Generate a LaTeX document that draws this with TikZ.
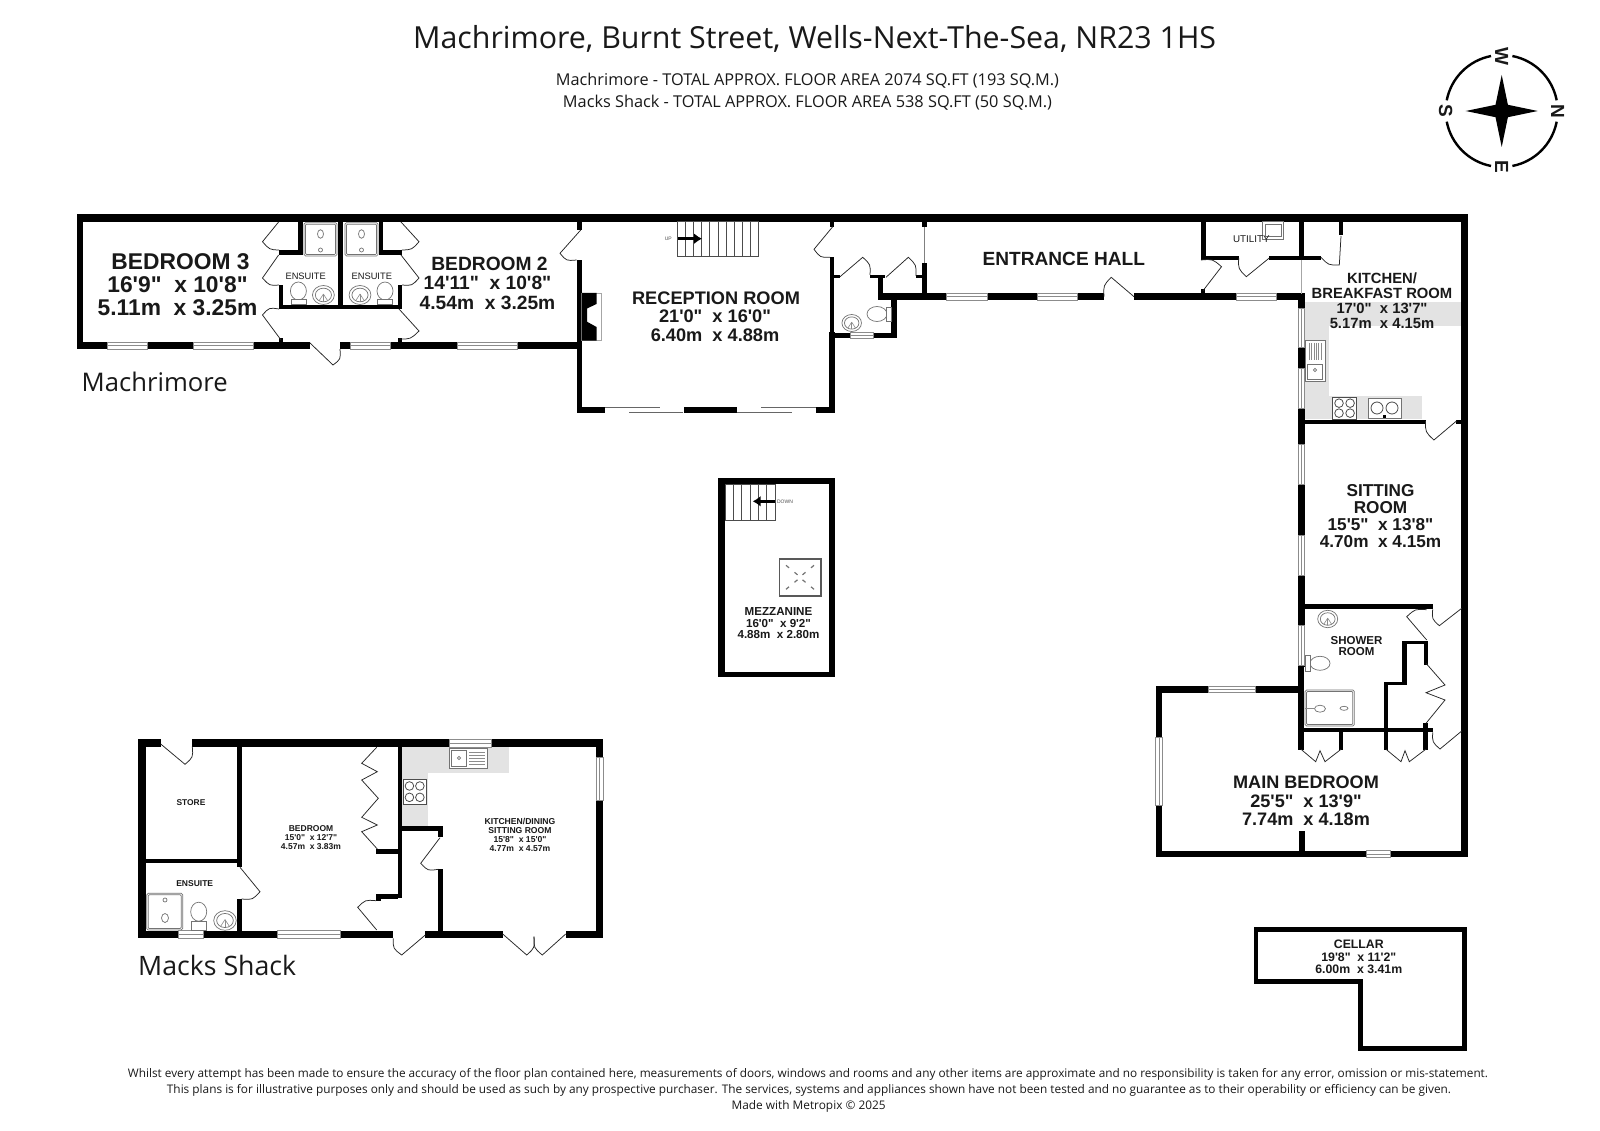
\documentclass[tikz,border=0pt]{standalone}
\usepackage{fontspec}
\usepackage{graphicx}
\usetikzlibrary{arrows.meta}
\setmainfont{Liberation Sans}
\newfontfamily\lab{Liberation Sans}
\newfontfamily\hdr{Open Sans}
\tikzset{
  wallfill/.style={fill=black,draw=none},
  winbox/.style={fill=white,draw=black!45,line width=.6pt},
  winmid/.style={draw=black!45,line width=.6pt},
  doorleaf/.style={draw=black!85,line width=.75pt},
  fixture/.style={draw=black!55,line width=.7pt,fill=white},
  burner/.style={draw=black!70,line width=.8pt},
  counter/.style={fill=black!11,draw=none},
  room/.style={font=\lab\bfseries,align=center,inner sep=0pt,text=black!90},
  head/.style={font=\hdr,inner sep=0pt,text=black!90},
  treads/.style={draw=black!70,line width=.7pt},
  arrowbar/.style={-{Latex[length=8pt,width=11pt]},black,line width=3pt},
}
\newcommand{\W}[4]{\fill[wallfill] (#1,#2) rectangle (#3,#4);}
\newcommand{\winh}[4]{\filldraw[winbox] (#1,#2) rectangle (#3,#4);\draw[winmid] (#1,{(#2+#4)/2}) -- (#3,{(#2+#4)/2});}
\newcommand{\winv}[4]{\filldraw[winbox] (#1,#2) rectangle (#3,#4);\draw[winmid] ({(#1+#3)/2},#2) -- ({(#1+#3)/2},#4);}
\newcommand{\door}[6]{\draw[doorleaf] (#1,#2) -- (#3,#4) .. controls ({#1+.58*(#3-#1+#5-#1)},{#2+.58*(#4-#2+#6-#2)}) .. (#5,#6);}
\newcommand{\tsize}[2]{\fontsize{#1}{#2}\selectfont}
\newcommand{\basin}[3]{\draw[fixture] (#1,#2) ellipse ({#3*1.15} and #3);\draw[fixture] (#1,#2) ellipse ({#3*.85} and {#3*.72});
  \draw[winmid] (#1,{#2-#3*.1}) -- (#1,{#2+#3*.7});\draw[winmid] (#1,{#2-#3*.1}) -- ({#1-#3*.45},{#2+#3*.6});\draw[winmid] (#1,{#2-#3*.1}) -- ({#1+#3*.45},{#2+#3*.6});}
\newcommand{\shower}[4]{\draw[fixture,rounded corners=1.5pt] (#1,#2) rectangle (#3,#4);\draw[fixture,rounded corners=1pt] ({#1+1.5},{#2+1.5}) rectangle ({#3-1.5},{#4-1.5});}
\newcommand{\hob}[4]{\draw[burner,fill=white] (#1,#2) rectangle (#3,#4);
  \foreach \u in {.27,.73}{\foreach \v in {.27,.73}{\draw[burner] ({#1+\u*(#3-#1)},{#2+\v*(#4-#2)}) circle (4.3);}}}
\begin{document}
\begin{tikzpicture}[x=1pt,y=-1pt]
\useasboundingbox (0,0) rectangle (1600,1131);
\fill[white] (0,0) rectangle (1600,1131);

% ---------- headings
\node[head] (title) at (814.6,39) {\resizebox{803pt}{!}{Machrimore, Burnt Street, Wells-Next-The-Sea, NR23 1HS}};
\node[head] (sub1) at (807.5,81) {\resizebox{503pt}{!}{Machrimore - TOTAL APPROX. FLOOR AREA 2074 SQ.FT (193 SQ.M.)}};
\node[head] (sub2) at (807.5,103) {\resizebox{489pt}{!}{Macks Shack - TOTAL APPROX. FLOOR AREA 538 SQ.FT (50 SQ.M.)}};
\node[head,anchor=base west] (mach) at (81.5,391.2) {\resizebox{146pt}{!}{Machrimore}};
\node[head,anchor=base west] (macks) at (138,975) {\resizebox{158pt}{!}{Macks Shack}};
\node[head] (foot1) at (808,1074.5) {\resizebox{1360pt}{!}{Whilst every attempt has been made to ensure the accuracy of the floor plan contained here, measurements of doors, windows and rooms and any other items are approximate and no responsibility is taken for any error, omission or mis-statement.}};
\node[head] (foot2) at (809,1090) {\resizebox{1284pt}{!}{This plans is for illustrative purposes only and should be used as such by any prospective purchaser. The services, systems and appliances shown have not been tested and no guarantee as to their operability or efficiency can be given.}};
\node[head] (foot3) at (808.6,1106) {\resizebox{154pt}{!}{Made with Metropix © 2025}};

% ---------- compass
\draw[line width=2.4pt,black] (1501.7,111) ++(11:56) arc[start angle=11,end angle=79,radius=56];
\draw[line width=2.4pt,black] (1501.7,111) ++(101:56) arc[start angle=101,end angle=169,radius=56];
\draw[line width=2.4pt,black] (1501.7,111) ++(191:56) arc[start angle=191,end angle=259,radius=56];
\draw[line width=2.4pt,black] (1501.7,111) ++(281:56) arc[start angle=281,end angle=349,radius=56];
\fill[black] (1501.7,75) -- (1507.9,104.8) -- (1537.7,111) -- (1507.9,117.2) -- (1501.7,147) -- (1495.5,117.2) -- (1465.7,111) -- (1495.5,104.8) -- cycle;
\node[room,rotate=-90,font=\lab\bfseries\tsize{19}{19}] (cN) at (1557.7,111) {N};
\node[room,rotate=-90,font=\lab\bfseries\tsize{19}{19}] (cS) at (1445.7,111) {S};
\node[room,rotate=-90,font=\lab\bfseries\tsize{19}{19}] (cW) at (1501.7,56) {W};
\node[room,rotate=-90,font=\lab\bfseries\tsize{19}{19}] (cE) at (1501.7,167) {E};

% ---------- Machrimore counters
\fill[counter] (1304.5,301.7) rectangle (1461.4,326);
\fill[counter] (1304.5,301.7) rectangle (1328.6,419);
\fill[counter] (1304.5,395.7) rectangle (1422.4,419.3);

% ---------- Machrimore outer walls
\W{76.8}{214}{1468.3}{221.7}
\W{76.8}{214}{83.2}{349}
\W{76.8}{342.3}{310}{349}
\W{340}{342.3}{581.7}{349}
\W{576.7}{221.7}{581.7}{230}
\W{576.7}{260}{581.7}{413.3}
\W{576.7}{406.7}{605}{413.3}
\W{684}{406.7}{736.7}{413.3}
\W{816}{406.7}{835.3}{413.3}
\W{830}{221.7}{834}{226.7}
\W{830}{257}{834}{332}
\W{829.3}{332}{835.3}{413.3}
\W{835}{332.7}{897.3}{338.3}
\W{891.3}{294}{897.3}{338.3}
\W{878.3}{293.3}{1104}{300}
\W{1134}{293.3}{1304.5}{300}
\W{1461.4}{214}{1468.3}{857.3}
\W{1298}{293.3}{1304.5}{666.7}
\W{1298.3}{666.7}{1304}{750}
\W{1155.7}{686}{1298.3}{692.7}
\W{1155.7}{686}{1162.3}{857.3}
\W{1155.7}{850.7}{1468.3}{857.3}
% ---------- inner walls, west wing
\W{297.5}{221.7}{303}{255}
\W{278.6}{250}{303}{255}
\W{338}{221.7}{343}{309}
\W{378.6}{221.7}{383}{255}
\W{378.6}{250}{402}{255}
\W{278.6}{305}{402}{309}
\W{278.6}{285}{283}{309}
\W{397.5}{285}{402}{309}
\W{279}{338}{283}{343}
\W{398}{338}{402}{343}
% ---------- inner walls, middle
\W{878.3}{276}{882.7}{298}
\W{870}{275}{885}{278.3}
\W{834}{275}{840}{278.3}
\W{916}{275}{922.7}{278.3}
\W{922}{263.3}{926.7}{298}
\W{922}{221.7}{926.7}{227}
\draw[black!50,line width=.7pt] (924,227) -- (924,263.3);
\W{1201}{221.7}{1206}{260}
\W{1201}{256}{1238.7}{260}
\W{1269.3}{256}{1321}{260}
\W{1298.8}{221.7}{1303.8}{258}
\draw[black!35,line width=.7pt] (1301,260) -- (1301,294);
\W{1339}{221.7}{1343}{235}
\W{1200.5}{289}{1205}{296}
% ---------- inner walls, east wing
\W{1304.5}{419.5}{1425.5}{424}
\W{1455.7}{419.5}{1461.4}{424}
\W{1304.5}{604.3}{1432.7}{609.3}
\W{1424}{640.7}{1428.3}{665}
\W{1402.3}{640.7}{1428.3}{644}
\W{1402.3}{640.7}{1406.7}{685}
\W{1384}{681.7}{1406.7}{685}
\W{1384}{681.7}{1388.3}{749.7}
\W{1303}{727.7}{1432.7}{732.3}
\W{1339}{732}{1343.3}{750}
\W{1423.3}{723}{1428.3}{750}
\W{1299.3}{831}{1304.7}{851}

% ---------- Machrimore windows
\winh{107}{342.3}{147}{349}
\winh{193}{342.3}{253}{349}
\winh{350}{342.3}{390}{349}
\winh{457.5}{342.3}{517}{349}
\winh{850}{332.7}{873}{338.3}
\winh{946.7}{293.3}{986.9}{300}
\winh{1037}{293.3}{1076.8}{300}
\winh{1236}{293.3}{1275.8}{300}
\winv{1298}{308}{1304.5}{347.3}
\winv{1298}{368.3}{1304.5}{408.3}
\winv{1298}{444}{1304.5}{484}
\winv{1298}{535.7}{1304.5}{575}
\winv{1298}{625}{1304.5}{665}
\winh{1208.3}{686}{1255}{692.7}
\winv{1155.7}{737.3}{1162.3}{805}
\winh{1366}{850.7}{1390}{857.3}
% reception sliding doors
\draw[black!60,line width=.8pt] (605,407.3) -- (660,407.3);
\draw[black!60,line width=.8pt] (629,412) -- (683.3,412);
\draw[black!60,line width=.8pt] (736.7,412) -- (792.3,412);
\draw[black!60,line width=.8pt] (761,407.3) -- (816,407.3);

% ---------- fireplace
\filldraw[fill=white,draw=black!35,line width=.5pt] (581.7,293) rectangle (601.3,340.7);
\fill[black] (581.7,293) -- (596.5,293) -- (596.5,304) -- (587,308.5) -- (587,321.7) -- (596.5,327) -- (596.5,340.7) -- (581.7,340.7) -- cycle;

% ---------- stairs up
\draw[treads] (677.7,221.7) rectangle (758,256.7);
\foreach \i in {1,...,9}{\draw[treads] ({677.7+8.03*\i},221.7) -- ({677.7+8.03*\i},256.7);}
\draw[arrowbar] (678,238.7) -- (702,238.7);
\node[font=\lab\tsize{5}{5},text=black!70,inner sep=0pt] (up) at (668.3,239) {UP};

% ---------- Machrimore doors
\door{278.6}{222}{262.5}{241.7}{279}{250}
\door{278.6}{255}{262.5}{278}{279}{285}
\door{281}{340}{262.5}{315}{279}{309}
\door{401}{222}{419}{241.7}{402}{250}
\door{401}{255}{419}{278}{402}{285}
\door{399}{309}{419}{331}{399}{339}
\door{310}{343}{333}{365}{340}{349}
\door{580.7}{230}{560}{253.3}{576.7}{260}
\door{832.7}{226.7}{814}{249.3}{830}{257.3}
\door{840}{276.7}{862.7}{257.3}{870}{275}
\door{886}{277.3}{908.3}{257.3}{916}{276}
\door{1134}{296.7}{1111.2}{277.3}{1104}{296.7}
\door{1203}{290.7}{1221.5}{266.7}{1201}{260}
\door{1269.3}{258}{1246.3}{276.7}{1238.7}{258}
\door{1341}{236}{1339.3}{265}{1321}{257.3}
\door{1456.8}{420.7}{1433.9}{440}{1425.5}{421}
\door{1461.7}{608.3}{1439.3}{625.7}{1432.7}{609.3}
\door{1426.7}{640}{1406.7}{616.7}{1426.7}{609.7}
\door{1461.7}{731}{1440}{749}{1432.7}{732.3}
\draw[doorleaf] (1426,723.3) -- (1445,700) -- (1426,692.7) -- (1445,685) -- (1426,663.3);
\draw[doorleaf] (1301,749.3) -- (1315.7,761.7) -- (1320,750.7) -- (1325,761.7) -- (1341,749.3);
\draw[doorleaf] (1386,749.3) -- (1401,761.7) -- (1405,750.7) -- (1409.3,761.7) -- (1425.7,749.3);

% ---------- Machrimore fixtures
\shower{304}{222.7}{337}{256}
\draw[fixture] (320.5,234) ellipse (3 and 4.3);
\draw[fixture] (320.5,250) circle (2);
\shower{345}{222.7}{378}{256}
\draw[fixture] (361.5,234) ellipse (3 and 4.3);
\draw[fixture] (361.5,250) circle (2);
\draw[fixture] (298.4,291) ellipse (8 and 9);
\draw[fixture] (291,299.5) rectangle (306,304.3);
\basin{323.4}{295}{9.5}
\draw[fixture] (385,291) ellipse (8 and 9);
\draw[fixture] (377.5,299.5) rectangle (392.5,304.3);
\basin{360}{295}{9.5}
\draw[fixture] (877,314) ellipse (10 and 7.5);
\draw[fixture] (886,307) rectangle (891,321);
\basin{851.7}{323}{8.5}
\draw[fixture] (1262.8,221.7) rectangle (1283.8,239.3);
\draw[fixture] (1265.5,224) rectangle (1281,236.5);
\draw[fixture] (1305,340) rectangle (1325,381.7);
\foreach \i in {0,1,2,3,4,5}{\draw[black!45,line width=.5pt] ({1309+2.4*\i},343) -- ({1309+2.4*\i},360);}
\draw[fixture] (1307.5,364) rectangle (1322.5,379.5);
\draw[fixture] (1315,370) circle (1.6);
\hob{1332.5}{397.3}{1356.6}{419}
\draw[fixture] (1368.4,398.3) rectangle (1401,418.3);
\draw[burner] (1377,408) circle (6);
\draw[burner] (1392,408) circle (6);
\fill[black] (1383,415) rectangle (1386,418);
\basin{1327.7}{619}{8.7}
\draw[fixture] (1320,663.3) ellipse (10 and 7);
\draw[fixture] (1305,655.5) rectangle (1310,671);
\shower{1305}{690}{1354.3}{726}
\draw[fixture] (1320,708.7) ellipse (5.5 and 3.5);
\draw[fixture] (1344,708.3) ellipse (4 and 2);
\draw[winmid] (1305,708.7) -- (1314.5,708.7);

% ---------- Machrimore labels
\node[room,font=\lab\bfseries\tsize{22.8}{23.3}] (bed3) at (177.5,284.7) {\hspace*{6pt}BEDROOM 3\\16'9"\ \ x 10'8"\\5.11m\ \ x 3.25m};
\node[room,font=\lab\bfseries\tsize{19.2}{19.4}] (bed2) at (487.5,283.3) {\hspace*{4pt}BEDROOM 2\\14'11"\ \ x 10'8"\\4.54m\ \ x 3.25m};
\node[room,font=\lab\tsize{9.3}{10}] (ens1) at (305.7,276.3) {ENSUITE};
\node[room,font=\lab\tsize{9.3}{10}] (ens2) at (371.8,276.3) {ENSUITE};
\node[room,font=\lab\bfseries\tsize{18.2}{18.6}] (recep) at (715,316.5) {\hspace*{2pt}RECEPTION ROOM\\21'0"\ \ x 16'0"\\6.40m\ \ x 4.88m};
\node[room,font=\lab\bfseries\tsize{19.1}{19}] (hall) at (1063.8,259) {ENTRANCE HALL};
\node[room,font=\lab\tsize{9.8}{10}] (util) at (1251.3,239) {UTILITY};
\node[room,font=\lab\bfseries\tsize{14.8}{15.2}] (kit) at (1382,300.7) {KITCHEN/\\BREAKFAST ROOM\\17'0"\ \ x 13'7"\\5.17m\ \ x 4.15m};
\node[room,font=\lab\bfseries\tsize{17.2}{17.1}] (sit) at (1380.5,516) {SITTING\\ROOM\\15'5"\ \ x 13'8"\\4.70m\ \ x 4.15m};
\node[room,font=\lab\bfseries\tsize{11.5}{11}] (show) at (1356.5,646.2) {SHOWER\\ROOM};
\node[room,font=\lab\bfseries\tsize{18.1}{18.3}] (main) at (1306,801) {MAIN BEDROOM\\25'5"\ \ x 13'9"\\7.74m\ \ x 4.18m};

% ---------- cellar
\draw[black,line width=4.6pt,line join=miter] (1255.8,929.6) -- (1464.4,929.6) -- (1464.4,1048.4) -- (1360.3,1048.4) -- (1360.3,981.7) -- (1255.8,981.7) -- cycle;
\node[room,font=\lab\bfseries\tsize{12.3}{12.5}] (cellar) at (1358.8,956.8) {CELLAR\\19'8"\ \ x 11'2"\\6.00m\ \ x 3.41m};

% ---------- mezzanine
\W{718.3}{478.3}{835}{484}
\W{718.3}{671.7}{835}{677.3}
\W{718.3}{478.3}{725}{677.3}
\W{829.3}{478.3}{835}{677.3}
\draw[treads] (725,484) rectangle (775,520);
\foreach \i in {1,...,5}{\draw[treads] ({725+8.33*\i},484) -- ({725+8.33*\i},520);}
\draw[arrowbar] (775,501.3) -- (752.7,501.3);
\node[font=\lab\tsize{5}{5},text=black!70,inner sep=0pt] (down) at (785,501.3) {DOWN};
\draw[black!65,line width=1.4pt] (779.3,559) rectangle (821,596);
\foreach \sx/\sy in {1/1,1/-1,-1/1,-1/-1}{
  \draw[black!55,line width=1.2pt] ({800+\sx*2.5},{577.3+\sy*2.5}) -- ({800+\sx*5.5},{577.3+\sy*5});
  \draw[black!55,line width=1.2pt] ({800+\sx*11},{577.3+\sy*9.5}) -- ({800+\sx*14},{577.3+\sy*12});
}
\node[room,font=\lab\bfseries\tsize{11.6}{11.7}] (mezz) at (778.5,623.3) {MEZZANINE\\16'0"\ \ x 9'2"\\4.88m\ \ x 2.80m};

% ---------- Macks Shack counters
\fill[counter] (402.3,747.3) rectangle (509,772.7);
\fill[counter] (402.3,747.3) rectangle (427.7,826);

% ---------- Macks Shack walls
\W{138.3}{739.3}{160.7}{747.3}
\W{192.3}{739.3}{603.3}{747.3}
\W{138.3}{739.3}{145.7}{938.3}
\W{596}{739.3}{603.3}{938.3}
\W{138.3}{930.7}{393.3}{938.3}
\W{425.3}{930.7}{502.7}{938.3}
\W{565.7}{930.7}{603.3}{938.3}
\W{237.3}{747}{241.7}{867}
\W{145.7}{858.7}{241.7}{863.3}
\W{237.3}{899}{241.7}{931}
\W{397.7}{747}{402.3}{898.3}
\W{376}{849}{398}{854}
\W{376}{894}{398}{899}
\W{376}{894}{380.7}{900.7}
\W{402.3}{826}{442.7}{830.7}
\W{438.3}{826}{442.7}{837.3}
\W{438.3}{869.3}{442.7}{931}
\winh{449.3}{739.3}{491}{747.3}
\winv{596}{757.3}{603.3}{800}
\winh{178.3}{930.7}{203.3}{938.3}
\winh{277.3}{930.7}{340}{938.3}

% ---------- Macks Shack doors
\door{160.7}{744}{185}{764.3}{192.3}{746.7}
\door{240}{867.3}{260}{891.7}{241.7}{899}
\draw[doorleaf] (376.7,747.3) -- (361.7,763.3) -- (377.3,771.7) -- (361.7,780) -- (378.3,798.3) -- (361.7,817.3) -- (377.3,825) -- (361.7,831.7) -- (377.3,849);
\door{376.7}{930}{357.7}{907.3}{376}{900.7}
\door{440}{837.7}{420.7}{863.3}{438.3}{869.3}
\door{425.3}{935}{401.7}{955}{393.3}{938.3}
\door{502.7}{934}{526.7}{955}{534}{936.7}
\door{565.7}{934}{542.3}{955}{534}{936.7}

% ---------- Macks Shack fixtures
\draw[fixture] (449.3,748.3) rectangle (487.3,768.3);
\draw[fixture] (451.5,750.5) rectangle (466,766.2);
\draw[fixture] (459,758) circle (1.7);
\foreach \i in {0,1,2,3,4}{\draw[black!45,line width=.5pt] (469,{752+3*\i}) -- (485,{752+3*\i});}
\hob{403.3}{779.3}{426}{804}
\shower{146.7}{893.3}{182.7}{930}
\draw[fixture] (165,918) ellipse (3.5 and 4.5);
\draw[fixture] (165,900) circle (2);
\draw[fixture] (198.7,911.7) ellipse (8 and 9.5);
\draw[fixture] (191.5,921.5) rectangle (206,930);
\basin{225}{920.5}{9.8}

% ---------- Macks Shack labels
\node[room,font=\lab\bfseries\tsize{8.4}{9}] (store) at (191,802.7) {STORE};
\node[room,font=\lab\bfseries\tsize{8.5}{9}] (ens3) at (194.7,883.3) {ENSUITE};
\node[room,font=\lab\bfseries\tsize{8.5}{8.8}] (sbed) at (311,837.7) {BEDROOM\\15'0"\ \ x 12'7"\\4.57m\ \ x 3.83m};
\node[room,font=\lab\bfseries\tsize{8.6}{8.8}] (skit) at (520,835) {KITCHEN/DINING\\SITTING ROOM\\15'8"\ \ x 15'0"\\4.77m\ \ x 4.57m};
\end{tikzpicture}
\end{document}
